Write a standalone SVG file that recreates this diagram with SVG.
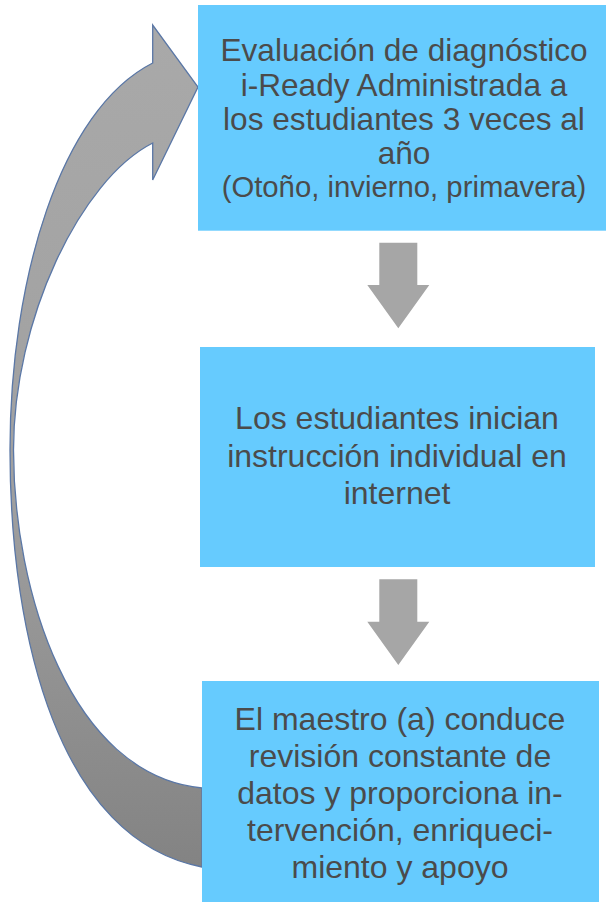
<svg xmlns="http://www.w3.org/2000/svg" width="606" height="902" viewBox="0 0 606 902">
<defs>
<linearGradient id="curveGrad" x1="0" y1="0" x2="0" y2="1">
<stop offset="0" stop-color="#a9a9a9"/>
<stop offset="0.55" stop-color="#a0a0a0"/>
<stop offset="1" stop-color="#838383"/>
</linearGradient>
<filter id="soft" x="-5%" y="-5%" width="110%" height="110%"><feGaussianBlur stdDeviation="0.6"/></filter>
</defs>
<style>
.box{fill:#66CBFE}
.t{font-family:"Liberation Sans",Arial,sans-serif;fill:#4b4b4b;text-anchor:middle}
.t1{font-size:31.6px}
.t1s{font-size:29.3px}
.t2{font-size:32px}
.down{fill:#a6a6a6;filter:url(#soft)}
.curve{fill:url(#curveGrad);stroke:#5a77a6;stroke-width:1.3;filter:url(#soft)}
</style>
<rect width="606" height="902" fill="#ffffff"/>
<g id="connectors">
<path class="curve" d="M202,867 C60,840 10,640 10,450 C10,280 60,110 152.7,63 L152.7,25 L198,87 L152.7,180 L152.7,143 C80,180 13.5,320 13.5,450 C13.5,590 70,775 202,788 Z"/>
<polygon class="down" points="379.3,242.7 417.3,242.7 417.3,285 429.3,285 398.3,328.3 367.3,285 379.3,285"/>
<polygon class="down" points="379.3,579.3 417.3,579.3 417.3,621.7 429.3,621.7 398.3,665 367.3,621.7 379.3,621.7"/>
</g>
<g id="node1">
<rect class="box" x="198" y="5" width="408" height="225.7"/>
<text class="t t1" x="404" y="61">Evaluación de diagnóstico</text>
<text class="t t1" x="404" y="95.5">i-Ready Administrada a</text>
<text class="t t1" x="404" y="129.5">los estudiantes 3 veces al</text>
<text class="t t1" x="404" y="164">año</text>
<text class="t t1s" x="404" y="197">(Otoño, invierno, primavera)</text>
</g>
<g id="node2">
<rect class="box" x="200" y="347" width="395" height="220"/>
<text class="t t2" x="397" y="429.3">Los estudiantes inician</text>
<text class="t t2" x="397" y="466.7">instrucción individual en</text>
<text class="t t2" x="397" y="504">internet</text>
</g>
<g id="node3">
<rect class="box" x="202" y="681" width="397" height="221"/>
<text class="t t2" x="400" y="730">El maestro (a) conduce</text>
<text class="t t2" x="400" y="767">revisión constante de</text>
<text class="t t2" x="400" y="804">datos y proporciona in-</text>
<text class="t t2" x="400" y="841">tervención, enriqueci-</text>
<text class="t t2" x="400" y="878">miento y apoyo</text>
</g>
</svg>
